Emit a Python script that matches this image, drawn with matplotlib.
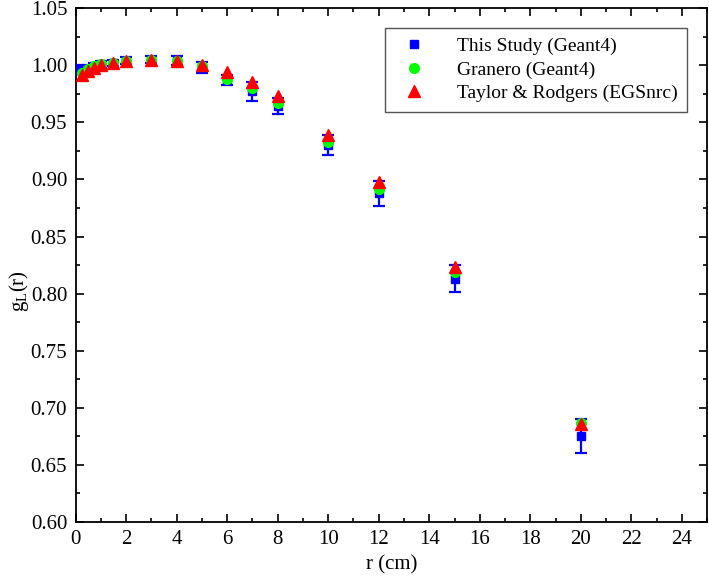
import numpy as np
import matplotlib.pyplot as plt
from matplotlib.ticker import MultipleLocator

# Radial dose function data
r_this = [0.1, 0.25, 0.5, 0.75, 1, 1.5, 2, 3, 4, 5, 6, 7, 8, 10, 12, 15, 20]
g_this = [0.997, 0.995, 0.997, 0.999, 1.001, 1.002, 1.004, 1.005, 1.004, 0.998,
          0.987, 0.977, 0.964, 0.930, 0.888, 0.813, 0.675]
err_this = [0.003, 0.003, 0.003, 0.003, 0.003, 0.003, 0.003, 0.003, 0.004, 0.005,
            0.004, 0.008, 0.007, 0.009, 0.011, 0.012, 0.015]

r_ref = [0.25, 0.5, 0.75, 1, 1.5, 2, 3, 4, 5, 6, 7, 8, 10, 12, 15, 20]
g_granero = [0.993, 0.997, 0.999, 1.001, 1.002, 1.004, 1.005, 1.004, 0.999,
             0.988, 0.980, 0.967, 0.933, 0.892, 0.819, 0.687]
g_taylor = [0.991, 0.995, 0.998, 1.000, 1.002, 1.004, 1.005, 1.004, 1.000,
            0.994, 0.985, 0.973, 0.939, 0.898, 0.823, 0.686]

plt.rcParams['font.family'] = ['Liberation Serif', 'DejaVu Serif']
plt.rcParams['mathtext.fontset'] = 'stix'

fig = plt.figure(figsize=(7.09, 5.80), dpi=100)
ax = fig.add_axes([0.1065, 0.1, 0.891, 0.886])

ax.errorbar(r_this, g_this, yerr=err_this, fmt='s', color='#0000ff', ms=6,
            capsize=4, elinewidth=1.6, capthick=1.6, zorder=3)
ax.plot(r_ref, g_granero, 'o', color='#00ff00', ms=7, zorder=4)
ax.plot(r_ref, g_taylor, '^', color='#ff0000', ms=9, zorder=5)

ax.set_xlim(0, 25)
ax.set_ylim(0.60, 1.05)
ax.xaxis.set_major_locator(MultipleLocator(2))
ax.xaxis.set_minor_locator(MultipleLocator(1))
ax.yaxis.set_major_locator(MultipleLocator(0.05))
ax.yaxis.set_minor_locator(MultipleLocator(0.025))
ax.yaxis.set_major_formatter(plt.FormatStrFormatter('%.2f'))
ax.tick_params(which='both', direction='in', top=True, right=True, labelsize=15)
ax.tick_params(which='major', length=6, width=1.2, pad=6)
ax.tick_params(which='minor', length=3, width=1.2)
for s in ax.spines.values():
    s.set_linewidth(1.3)

ax.set_xlabel('r (cm)', fontsize=15, labelpad=4)
ax.set_ylabel(r'$\mathregular{g_L(r)}$', fontsize=15)
ax.yaxis.set_label_coords(-0.07, 0.45)

# legend with plain markers, no error bars
h_this = plt.Line2D([], [], marker='s', ls='', color='#0000ff', ms=6)
h_gran = plt.Line2D([], [], marker='o', ls='', color='#00ff00', ms=7)
h_tay = plt.Line2D([], [], marker='^', ls='', color='#ff0000', ms=8)
leg = ax.legend([h_this, h_gran, h_tay],
                ['This Study (Geant4)', 'Granero (Geant4)', 'Taylor & Rodgers (EGSnrc)'],
                loc='upper right', bbox_to_anchor=(0.968, 0.962), fontsize=14,
                frameon=True, fancybox=False, edgecolor='#555555', framealpha=1,
                borderpad=0.5, handletextpad=1.2, labelspacing=0.3, borderaxespad=0,
                handlelength=2.0)
leg.get_frame().set_linewidth(1.0)

fig.savefig('out.png', dpi=100)
